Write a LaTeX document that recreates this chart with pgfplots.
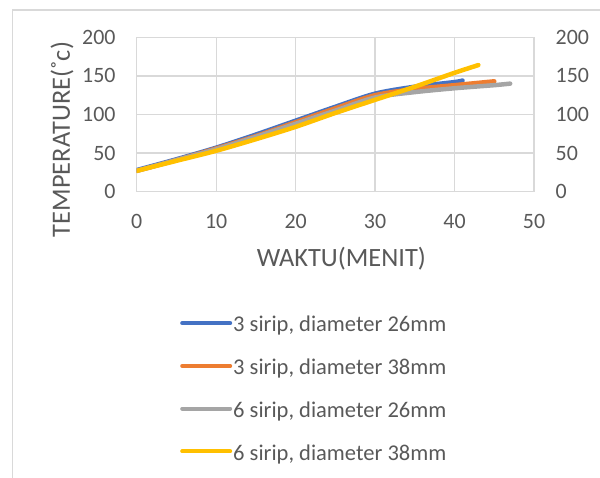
\documentclass[border=0pt]{standalone}
\usepackage{pgfplots}
\pgfplotsset{compat=1.18}
\usepackage{fontspec}
\setmainfont{Carlito}
\definecolor{cBlue}{HTML}{4472C4}
\definecolor{cOrange}{HTML}{ED7D31}
\definecolor{cGray}{HTML}{A5A5A5}
\definecolor{cYellow}{HTML}{FFC000}
\definecolor{gridc}{HTML}{D9D9D9}
\definecolor{textc}{HTML}{595959}
\pgfplotsset{
  common/.style={
    at={(136.7bp,286.3bp)}, anchor=south west,
    scale only axis, width=397.3bp, height=154.4bp,
    xmin=0, xmax=50, ymin=0, ymax=200,
    major tick length=0pt,
    /pgf/number format/assume math mode=true,
    tick label style={font=\fontsize{22}{26}\selectfont, text=textc, inner sep=0pt},
  }
}
\begin{document}
\begin{tikzpicture}
\path[use as bounding box] (0bp,0bp) rectangle (600bp,478bp);
\draw[line width=1.3bp, color=gridc] (12.3bp,-2bp) -- (12.3bp,468bp) -- (602bp,468bp);
\begin{axis}[
  common,
  xtick={0,10,...,50}, ytick={0,50,...,200},
  grid=major, major grid style={gridc, line width=1.3bp},
  axis line style={gridc, line width=1.3bp},
  yticklabel style={anchor=east, xshift=-21bp},
  xticklabel style={anchor=north, yshift=-22bp},
  xlabel={WAKTU(MENIT)},
  ylabel={TEMPERATURE(˚c)},
  label style={font=\fontsize{26.5}{31}\selectfont, text=textc, inner sep=0pt},
  xlabel style={at={(axis description cs:0.515,-0.436)}, anchor=center},
  ylabel style={at={(axis description cs:-0.188,0.338)}, anchor=center},
  every axis plot/.append style={line width=4.5bp, line cap=round, line join=round, smooth, tension=0.5, no markers},
  legend image code/.code={\draw[#1, line width=4bp, line cap=round] (2bp,3.7bp) -- (50bp,3.7bp);},
  legend style={at={(axis description cs:0.109,-0.8096)}, anchor=north west, draw=none, fill=none,
    inner sep=0pt, row sep=22.7bp, column sep=1bp,
    font=\fontsize{22.6}{27}\selectfont, text=textc,
    nodes={inner sep=0pt, text height=15bp, text depth=5bp}},
  legend cell align=left,
]
\addplot[cBlue] coordinates {(0,28) (5,42) (10,57) (15,74) (20,92) (25,110) (30,127) (35,136) (40,142) (41,144)};
\addlegendentry{3 sirip, diameter 26mm}
\addplot[cOrange] coordinates {(0,27) (5,41) (10,56) (15,72) (20,90) (25,108) (30,125) (35,133) (40,138) (45,143)};
\addlegendentry{3 sirip, diameter 38mm}
\addplot[cGray] coordinates {(0,27) (5,41) (10,55) (15,71) (20,88) (25,105) (30,122) (35,129) (40,134) (45,138) (47,140)};
\addlegendentry{6 sirip, diameter 26mm}
\addplot[cYellow] coordinates {(0,27) (5,40) (10,53) (15,68) (20,84) (25,102) (30,119) (35,136) (40,154) (43,164)};
\addlegendentry{6 sirip, diameter 38mm}
\end{axis}
\begin{axis}[
  common,
  axis x line=none,
  axis y line*=right,
  y axis line style={draw=none},
  xtick=\empty, ytick={0,50,...,200},
  yticklabel style={anchor=west, xshift=21.5bp},
]
\addplot[draw=none] coordinates {(0,0) (50,200)};
\end{axis}
\end{tikzpicture}
\end{document}
